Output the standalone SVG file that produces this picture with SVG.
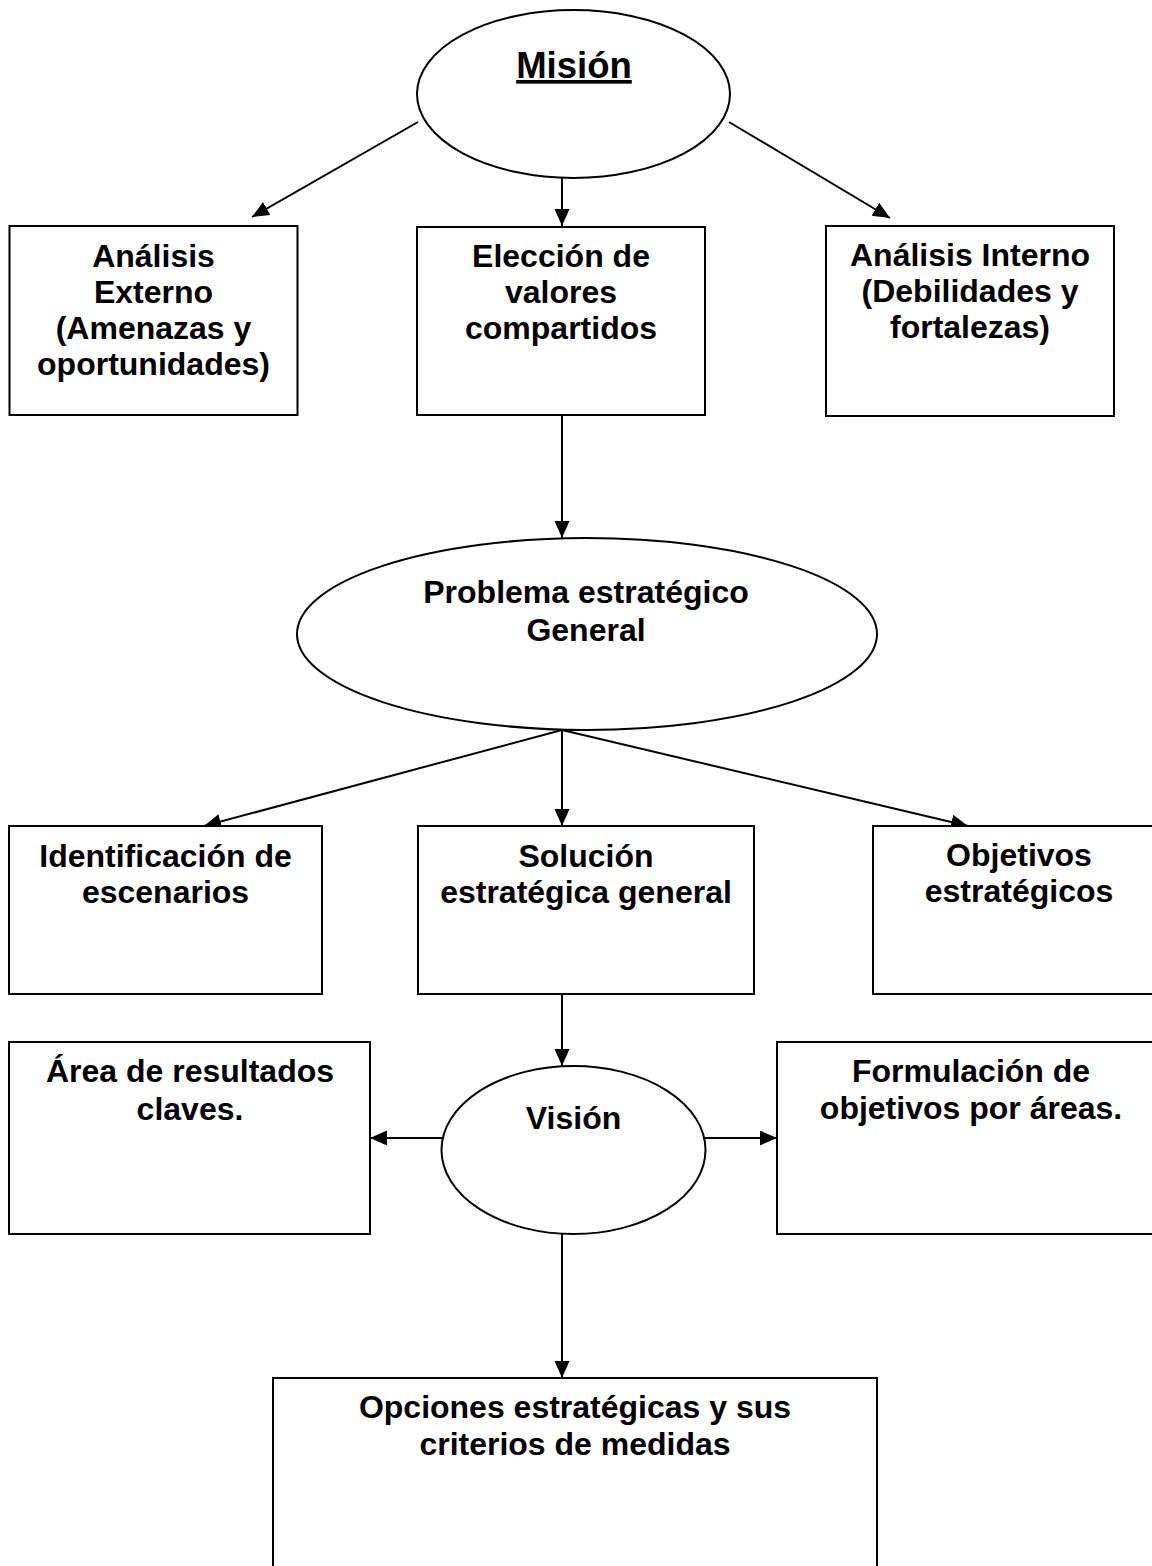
<svg xmlns="http://www.w3.org/2000/svg" width="1152" height="1566" viewBox="0 0 1152 1566">
<defs>
<style>
.box{fill:#fff;stroke:#000;stroke-width:2}
.ell{fill:#fff;stroke:#000;stroke-width:2}
.t{font-family:"Liberation Sans",Arial,sans-serif;font-weight:bold;font-size:32px;fill:#000;text-anchor:middle}
.big{font-size:36.5px;text-decoration:underline}
.c{stroke:#000;stroke-width:2;fill:none;marker-end:url(#ah)}
</style>
<marker id="ah" markerUnits="userSpaceOnUse" markerWidth="18" markerHeight="16" refX="17" refY="7.5" orient="auto">
<path d="M0,0 L17,7.5 L0,15 Z" fill="#000"/>
</marker>
</defs>
<rect width="1152" height="1566" fill="#fff"/>
<g id="connectors">
<line class="c" x1="418" y1="122" x2="252" y2="217"/>
<line class="c" x1="562" y1="178" x2="562" y2="226"/>
<line class="c" x1="729" y1="122" x2="890" y2="218"/>
<line class="c" x1="562" y1="415" x2="562" y2="538"/>
<line class="c" x1="562" y1="730" x2="204" y2="826"/>
<line class="c" x1="562" y1="730" x2="562" y2="826"/>
<line class="c" x1="562" y1="730" x2="968" y2="826"/>
<line class="c" x1="562" y1="994" x2="562" y2="1066"/>
<line class="c" x1="443" y1="1138" x2="370" y2="1138"/>
<line class="c" x1="704" y1="1138" x2="777" y2="1138"/>
<line class="c" x1="562" y1="1234" x2="562" y2="1378"/>
</g>
<g id="mision">
<ellipse class="ell" cx="573.5" cy="94" rx="156.5" ry="84"/>
<text class="t big" x="574" y="78">Misión</text>
</g>
<g id="analisis-externo">
<rect class="box" x="9.5" y="226" width="288" height="189"/>
<text class="t" x="153.5" y="267">Análisis</text>
<text class="t" x="153.5" y="303">Externo</text>
<text class="t" x="153.5" y="339">(Amenazas y</text>
<text class="t" x="153.5" y="375">oportunidades)</text>
</g>
<g id="eleccion-valores">
<rect class="box" x="417" y="227" width="288" height="188"/>
<text class="t" x="561" y="267">Elección de</text>
<text class="t" x="561" y="303">valores</text>
<text class="t" x="561" y="339">compartidos</text>
</g>
<g id="analisis-interno">
<rect class="box" x="826" y="226" width="288" height="190"/>
<text class="t" x="970" y="266">Análisis Interno</text>
<text class="t" x="970" y="302">(Debilidades y</text>
<text class="t" x="970" y="338">fortalezas)</text>
</g>
<g id="problema">
<ellipse class="ell" cx="587" cy="634" rx="290" ry="96"/>
<text class="t" x="586" y="603">Problema estratégico</text>
<text class="t" x="586" y="641">General</text>
</g>
<g id="identificacion">
<rect class="box" x="9" y="826" width="313" height="168"/>
<text class="t" x="165.5" y="867">Identificación de</text>
<text class="t" x="165.5" y="903">escenarios</text>
</g>
<g id="solucion">
<rect class="box" x="418" y="826" width="336" height="168"/>
<text class="t" x="586" y="867">Solución</text>
<text class="t" x="586" y="903">estratégica general</text>
</g>
<g id="objetivos">
<rect class="box" x="873" y="826" width="292" height="168"/>
<text class="t" x="1019" y="866">Objetivos</text>
<text class="t" x="1019" y="902">estratégicos</text>
</g>
<g id="area-resultados">
<rect class="box" x="9" y="1042" width="361" height="192"/>
<text class="t" x="190" y="1082">Área de resultados</text>
<text class="t" x="190" y="1120">claves.</text>
</g>
<g id="vision">
<ellipse class="ell" cx="573.5" cy="1150" rx="132" ry="84"/>
<text class="t" x="573.5" y="1129">Visión</text>
</g>
<g id="formulacion">
<rect class="box" x="777" y="1042" width="388" height="192"/>
<text class="t" x="971" y="1082">Formulación de</text>
<text class="t" x="971" y="1119">objetivos por áreas.</text>
</g>
<g id="opciones">
<rect class="box" x="273" y="1378" width="604" height="200"/>
<text class="t" x="575" y="1418">Opciones estratégicas y sus</text>
<text class="t" x="575" y="1455">criterios de medidas</text>
</g>
</svg>
